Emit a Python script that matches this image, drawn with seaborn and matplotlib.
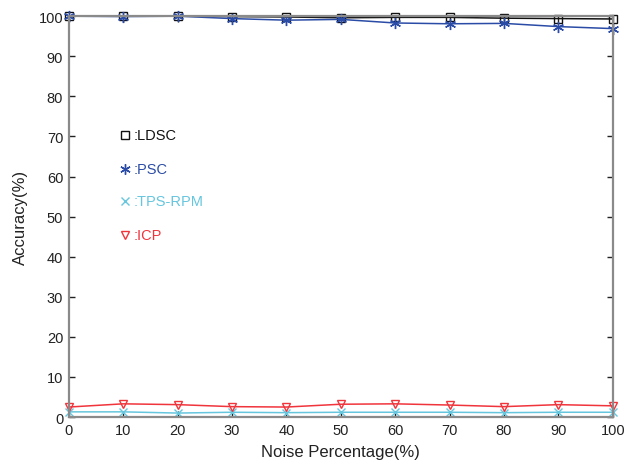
import pandas as pd
import matplotlib
matplotlib.use('Agg')
import matplotlib.pyplot as plt
import seaborn as sns

noise = [0, 10, 20, 30, 40, 50, 60, 70, 80, 90, 100]
ldsc = [100, 100, 100, 99.9, 99.8, 99.6, 99.7, 99.7, 99.5, 99.4, 99.3]
psc = [100, 99.9, 100, 99.4, 99.0, 99.2, 98.3, 98.1, 98.2, 97.4, 96.9]
tps_rpm = [1.3, 1.3, 1.0, 1.2, 1.1, 1.2, 1.2, 1.2, 1.1, 1.2, 1.2]
icp = [2.5, 3.3, 3.1, 2.6, 2.5, 3.2, 3.3, 3.0, 2.6, 3.1, 2.8]

names = [':LDSC', ':PSC', ':TPS-RPM', ':ICP']
colors = ['#111111', '#2b4ca6', '#66c6de', '#f0343c']
markers = ['s', (6, 2, 0), 'x', 'v']
msizes = [6, 8, 6, 6]

sns.set_style('white')
plt.rcParams['font.family'] = ['Liberation Sans', 'DejaVu Sans']

fig = plt.figure(figsize=(6.31, 4.64), dpi=100)
ax = fig.add_axes([0.109, 0.099, 0.862, 0.864])

series = [ldsc, psc, tps_rpm, icp]
for vals, c, m, ms in zip(series, colors, markers, msizes):
    df = pd.DataFrame({'x': noise, 'y': vals})
    mfc = 'none' if m in ('s', 'v') else c
    sns.lineplot(data=df, x='x', y='y', ax=ax, color=c, marker=m, markersize=ms,
                 markerfacecolor=mfc, markeredgecolor=c, markeredgewidth=1.0,
                 linewidth=1.1, clip_on=False)

# legend drawn as marker + coloured text, like the original
leg_y = [70.4, 61.9, 53.9, 45.4]
for name, c, m, ms, yy in zip(names, colors, markers, msizes, leg_y):
    mfc = 'none' if m in ('s', 'v') else c
    ax.plot([10.3], [yy], marker=m, color=c, markerfacecolor=mfc, markersize=ms - 0.5,
            markeredgewidth=1.0, linestyle='none')
    ax.text(11.9, yy, name, color=c, fontsize=10.5, va='center', ha='left')

ax.set_xlim(0, 100)
ax.set_ylim(0, 100)
ax.set_xticks(noise)
ax.set_yticks(range(0, 101, 10))
ax.tick_params(direction='in', length=4, width=1, colors='#222222', labelsize=10.5,
               top=True, right=True, left=True, bottom=True, pad=4)
for s in ax.spines.values():
    s.set_visible(True)
    s.set_color('#8a8a8a')
    s.set_linewidth(1.6)
ax.set_xlabel('Noise Percentage(%)', fontsize=12, color='#222222', labelpad=5)
ax.set_ylabel('Accuracy(%)', fontsize=12, color='#222222', labelpad=8)

fig.savefig('out.png', dpi=100)
